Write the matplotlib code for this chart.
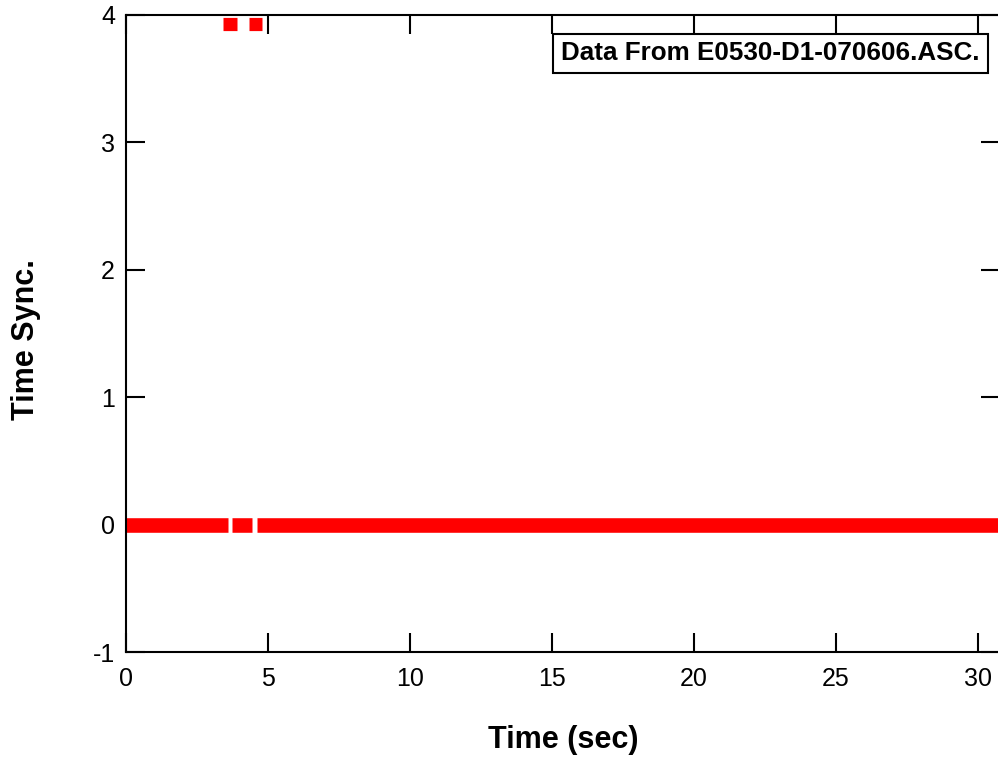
import matplotlib
matplotlib.use('Agg')
import matplotlib.pyplot as plt

plt.rcParams['font.family'] = ['Liberation Sans', 'DejaVu Sans']
plt.rcParams['axes.unicode_minus'] = False

# time ranges (sec) where Time Sync. sits at each level
zero_level = 0.0
zero_starts = [0.0, 3.73, 4.61]
zero_ends = [3.59, 4.44, 30.8]

high_level = 3.93
high_starts = [3.42, 4.33]
high_ends = [3.91, 4.79]

x_ticks = [0, 5, 10, 15, 20, 25, 30]
y_ticks = [-1, 0, 1, 2, 3, 4]
note = 'Data From E0530-D1-070606.ASC.'

W, H = 998, 759
fig = plt.figure(figsize=(W / 100, H / 100), dpi=100)
# right spine sits just past the image edge, like the original
ax = fig.add_axes([126 / W, 1 - 652 / H, (1000 - 126) / W, (652 - 15) / H])

red = '#ff0000'
for a, b in zip(zero_starts, zero_ends):
    ax.plot([a, b], [zero_level, zero_level], color=red, lw=10.5,
            solid_capstyle='butt')
for a, b in zip(high_starts, high_ends):
    ax.plot([a, b], [high_level, high_level], color=red, lw=9.5,
            solid_capstyle='butt')

ax.set_xlim(0, 30.78)
ax.set_ylim(-1, 4)
ax.set_xticks(x_ticks)
ax.set_yticks(y_ticks)
ax.tick_params(direction='in', length=14, width=1.5, labelsize=18,
               top=True, right=True, labeltop=False, labelright=False)
ax.tick_params(axis='x', pad=11)
ax.tick_params(axis='y', pad=8)
for s in ax.spines.values():
    s.set_linewidth(1.5)

ax.set_xlabel('Time (sec)', fontsize=22, fontweight='bold', labelpad=24)
ax.set_ylabel('Time Sync.', fontsize=22, fontweight='bold')
ax.yaxis.set_label_coords(-0.097, 0.49)

ax.text(0.7374, 0.9396, note, transform=ax.transAxes, ha='center', va='center',
        fontsize=18.7, fontweight='bold',
        bbox=dict(boxstyle='square,pad=0.3', fc='white', ec='black', lw=1.5))

fig.savefig('out.png', dpi=100)
